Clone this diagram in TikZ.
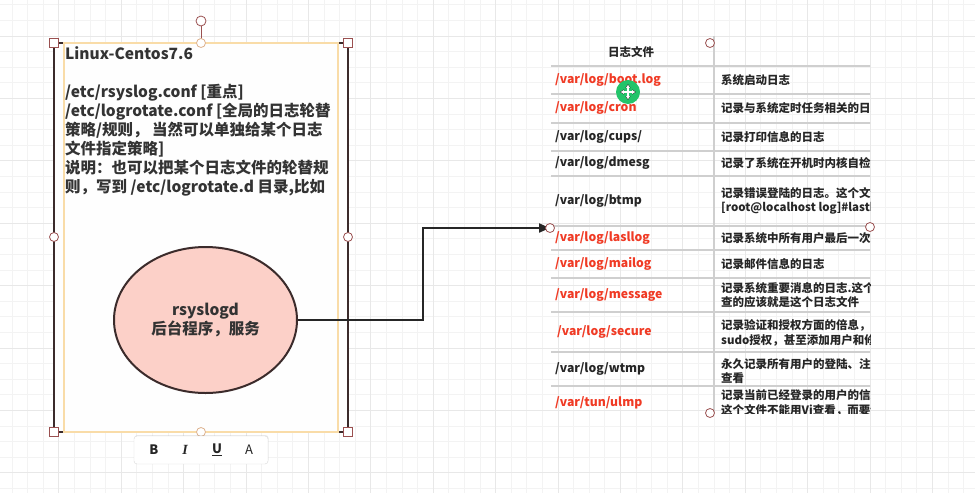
\documentclass[tikz,border=0pt]{standalone}
\usepackage{fontspec}
\setmainfont{Noto Sans CJK SC}
\newfontfamily\serifit{Liberation Serif}
\usetikzlibrary{shapes.geometric,arrows.meta,shadows}
\definecolor{gridminor}{HTML}{F3F3F3}
\definecolor{gridmajor}{HTML}{E8E8E8}
\definecolor{framec}{HTML}{3B2B2B}
\definecolor{peach}{HTML}{F9DCA8}
\definecolor{handlec}{HTML}{9A5050}
\definecolor{pinkfill}{HTML}{FCD0C8}
\definecolor{ink}{HTML}{333333}
\definecolor{redtxt}{HTML}{F03A24}
\definecolor{rulec}{HTML}{CFCFCF}
\definecolor{greenc}{HTML}{22C46A}
\tikzset{
  sqhandle/.style={draw=handlec, fill=white, line width=0.8, minimum size=9, inner sep=0, rectangle},
  cirhandle/.style={draw=handlec, fill=white, line width=0.8, minimum size=9, inner sep=0, circle},
  boxtext/.style={anchor=north west, inner sep=0, align=left, text=ink, font=\fontsize{15.5}{19}\selectfont\bfseries},
  c1/.style={anchor=west, inner sep=0, text=black!85, font=\fontsize{12.2}{14.5}\selectfont\bfseries},
  c2/.style={anchor=west, inner sep=0, align=left, text=black!85, font=\fontsize{11.5}{14.5}\selectfont\bfseries},
  rowline/.style={draw=rulec, line width=1.5},
  conn/.style={draw=black!85, line width=2},
  tbbtn/.style={inner sep=0, font=\fontsize{13}{15}\selectfont, text=black!85}
}
\begin{document}
\begin{tikzpicture}[x=1pt,y=-1pt]
\useasboundingbox (0,0) rectangle (975,493);
\fill[white] (0,0) rectangle (975,493);
% grid
\foreach \k in {0,...,61}{\draw[gridminor, line width=1] ({12.1+15.6*\k},0) -- ({12.1+15.6*\k},493);}
\foreach \k in {0,...,31}{\draw[gridminor, line width=1] (0,{4.8+15.6*\k}) -- (975,{4.8+15.6*\k});}
\foreach \k in {3,7,...,59}{\draw[gridmajor, line width=1] ({12.1+15.6*\k},0) -- ({12.1+15.6*\k},493);}
\foreach \k in {2,6,...,30}{\draw[gridmajor, line width=1] (0,{4.8+15.6*\k}) -- (975,{4.8+15.6*\k});}

% selected text box
\fill[white!99!gray] (54,43) rectangle (348,432);
\draw[framec, line width=2.8] (54,43) -- (54,432) (348,43) -- (348,432);
\draw[framec, line width=2] (54,43) -- (64,43) (338,43) -- (348,43) (54,432) -- (64,432) (338,432) -- (348,432);
\draw[peach, line width=2] (64,43) rectangle (338,432);
\node[boxtext] (boxtxt) at (65,46) {Linux-Centos7.6\\[19pt]
/etc/rsyslog.conf [重点]\\
/etc/logrotate.conf [全局的日志轮替\\
策略/规则， 当然可以单独给某个日志\\
文件指定策略]\\
说明：也可以把某个日志文件的轮替规\\
则，写到 /etc/logrotate.d 目录,比如};

% ellipse
\node[ellipse, draw=framec, line width=2, fill=pinkfill, minimum width=183, minimum height=146, align=center, text=ink, font=\fontsize{15.5}{19}\selectfont\bfseries] (ell) at (205.5,320) {rsyslogd\\后台程序，服务};

% handles
\coordinate (rotc) at (201,21);
\draw[handlec, line width=1] (201,26) -- (201,43);
\node[cirhandle, minimum size=10] (rot) at (rotc) {};
\node[sqhandle] (h1) at (54,43) {};
\node[sqhandle] (h2) at (348,43) {};
\node[sqhandle] (h3) at (54,432) {};
\node[sqhandle] (h4) at (348,432) {};
\node[cirhandle, draw=peach!70!handlec] (h5) at (201,43) {};
\node[cirhandle, draw=peach!70!handlec] (h6) at (201,432) {};
\node[cirhandle] (h7) at (54,237) {};
\node[cirhandle] (h8) at (348,237) {};

% toolbar
\node[draw=black!15, fill=white, rounded corners=3, minimum width=134, minimum height=28, drop shadow={shadow xshift=0.5, shadow yshift=-1, opacity=0.15}] (tb) at (201,450) {};
\node[tbbtn, font=\fontsize{13}{15}\selectfont\bfseries] (tbB) at (154,450) {B};
\node[tbbtn, font=\fontsize{14}{15}\serifit\bfseries\itshape] (tbI) at (185,450) {I};
\node[tbbtn, font=\fontsize{13}{15}\selectfont\bfseries] (tbU) at (217,450) {\underline{U}};
\node[tbbtn] (tbA) at (249,450) {A};

% table
\begin{scope}
\clip (546,30) rectangle (870,413);
\foreach \yy in {66,94,123,151,176,226,250,278,312,352,386}{\draw[rowline] (551,\yy) -- (872,\yy);}
\draw[rowline] (714,36) -- (714,413);
\node[c1, anchor=center, font=\fontsize{11.5}{14}\selectfont\bfseries] (hd) at (631,52) {日志文件};
\node[c1, text=redtxt] (r1a) at (555,80) {/var/log/boot.log};
\node[c2] (r1b) at (721,80) {系统启动日志};
\node[c1, text=redtxt] (r2a) at (555,108) {/var/log/cron};
\node[c2] (r2b) at (721,108) {记录与系统定时任务相关的日志};
\node[c1] (r3a) at (555,137) {/var/log/cups/};
\node[c2] (r3b) at (721,137) {记录打印信息的日志};
\node[c1] (r4a) at (555,163) {/var/log/dmesg};
\node[c2] (r4b) at (721,163) {记录了系统在开机时内核自检的信息};
\node[c1] (r5a) at (555,201) {/var/log/btmp};
\node[c2] (r5b) at (721,201) {记录错误登陆的日志。这个文件\\{[root@localhost log]\#lastb}};
\node[c1, text=redtxt] (r6a) at (555,238) {/var/log/lasllog};
\node[c2] (r6b) at (721,238) {记录系统中所有用户最后一次的登录};
\node[c1, text=redtxt] (r7a) at (555,264) {/var/log/mailog};
\node[c2] (r7b) at (721,264) {记录邮件信息的日志};
\node[c1, text=redtxt] (r8a) at (555,295) {/var/log/message};
\node[c2] (r8b) at (721,295) {记录系统重要消息的日志.这个\\查的应该就是这个日志文件};
\node[c1, text=redtxt] (r9a) at (557,332) {/var/log/secure};
\node[c2] (r9b) at (721,333) {记录验证和授权方面的倍息，只\\sudo授权，甚至添加用户和修改};
\node[c1] (r10a) at (555,369) {/var/log/wtmp};
\node[c2] (r10b) at (721,371) {永久记录所有用户的登陆、注销\\查看};
\node[c1, text=redtxt] (r11a) at (555,403) {/var/tun/ulmp};
\node[c2] (r11b) at (721,403) {记录当前已经登录的用户的信息\\这个文件不能用Vi查看，而要使};
\end{scope}

% connector
\coordinate (tin) at (550,228);
\draw[conn, -{Triangle[length=11,width=9]}] (ell.east) -- (423,320) |- (tin);
\node[cirhandle] (t1) at (tin) {};
\node[cirhandle] (t2) at (710,43) {};
\node[cirhandle] (t3) at (870,227) {};
\node[cirhandle] (t4) at (710,413) {};

% move cursor
\node[circle, fill=greenc, minimum size=24, inner sep=0] (cur) at (628,92) {};
\draw[black!80, line width=2.6, {Triangle[length=4,width=5]}-{Triangle[length=4,width=5]}] (620,92) -- (636,92);
\draw[black!80, line width=2.6, {Triangle[length=4,width=5]}-{Triangle[length=4,width=5]}] (628,84) -- (628,100);
\draw[white, line width=1.2, {Triangle[length=3,width=3.5]}-{Triangle[length=3,width=3.5]}] (620.8,92) -- (635.2,92);
\draw[white, line width=1.2, {Triangle[length=3,width=3.5]}-{Triangle[length=3,width=3.5]}] (628,84.8) -- (628,99.2);
\end{tikzpicture}
\end{document}
